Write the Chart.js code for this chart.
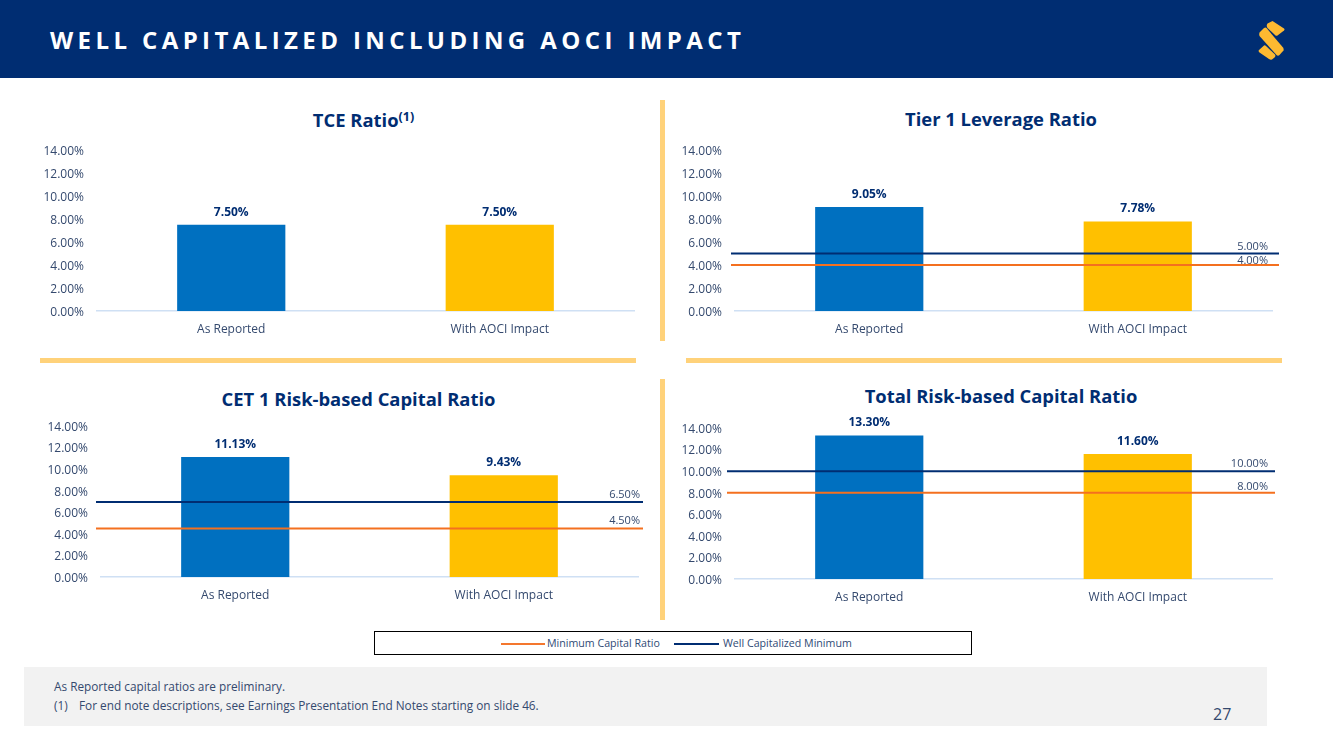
<!DOCTYPE html>
<html><head><meta charset="utf-8">
<script src="https://cdn.jsdelivr.net/npm/chart.js@4/dist/chart.umd.min.js"></script>
<style>
html,body{margin:0;padding:0;background:#fff;width:1333px;height:749px;overflow:hidden;font-family:"Open Sans",sans-serif}
.abs{position:absolute}
#hdr{left:0;top:0;width:1333px;height:78px;background:#002d72}
#hdrT{left:50px;top:24px;color:#fff;font-weight:700;font-size:24px;letter-spacing:4.4px;line-height:32px;white-space:nowrap}
.div{position:absolute;background:#ffd27a}
.ttl{position:absolute;color:#002d72;font-weight:700;font-size:18.4px;line-height:26px;text-align:center;white-space:nowrap}
.ttl sup{font-size:12.5px;line-height:0;vertical-align:baseline;position:relative;top:-6px}
canvas{position:absolute;display:block}
#leg{left:374px;top:631px;width:596px;height:22px;border:1px solid #000;font-size:10.65px;color:#2f4a75}
#leg span{position:absolute;top:4px;white-space:nowrap;line-height:15px}
#leg i{position:absolute;top:11px;height:2px;display:block}
#foot{left:24px;top:667px;width:1243px;height:59px;background:#f2f2f2}
.fn{position:absolute;font-size:11.8px;color:#34496e;white-space:nowrap;line-height:16px}
#pg{left:1213px;top:703px;font-size:16px;color:#34496e;line-height:22px}
</style></head><body>
<div id="hdr" class="abs"></div>
<div id="hdrT" class="abs">WELL CAPITALIZED INCLUDING AOCI IMPACT</div>
<svg class="abs" style="left:1250px;top:14px" width="44" height="52" viewBox="0 0 44 52">
<g fill="#fdb931">
<path d="M19 10.5L24 8L35.500 15.500Q36.500 16.500 35.500 17.500L29 22.500Q28 23 27 22.500L19 15Q17.500 12.500 19 10.500Z" transform="translate(-1.500 -1)"/>
<path d="M13 14L8.500 18.500Q8 20 8.500 22L25.500 41Q27 42.500 28.500 41L32.500 36.500Q33 35 32 33.500L15.500 14Q14.500 13 13 14Z" transform="translate(1 0)"/>
<path d="M8 36L13 31.500Q14 31 15 32L24 40.500Q25 42 23.500 43.500L21 45.500Q19.500 46 18 45L8.500 38.500Q7 37 8 36Z" transform="translate(1 0)"/>
</g></svg>

<div class="div" style="left:660px;top:100px;width:5px;height:241px"></div>
<div class="div" style="left:40px;top:358px;width:596px;height:5px"></div>
<div class="div" style="left:686px;top:358px;width:596px;height:5px"></div>
<div class="div" style="left:660px;top:379px;width:5px;height:241px"></div>

<div class="ttl" style="left:97px;top:107px;width:533px">TCE Ratio<sup>(1)</sup></div>
<div class="ttl" style="left:735px;top:106px;width:532px">Tier 1 Leverage Ratio</div>
<div class="ttl" style="left:101px;top:386px;width:515px">CET 1 Risk-based Capital Ratio</div>
<div class="ttl" style="left:735px;top:383px;width:532px">Total Risk-based Capital Ratio</div>

<canvas id="c1"></canvas><canvas id="c2"></canvas><canvas id="c3"></canvas><canvas id="c4"></canvas>

<div id="leg" class="abs">
<i style="left:126px;width:44px;background:#f4772e"></i><span style="left:172px">Minimum Capital Ratio</span>
<i style="left:299px;width:45px;background:#002d72"></i><span style="left:348px">Well Capitalized Minimum</span>
</div>
<div id="foot" class="abs"></div>
<div class="fn" style="left:54px;top:678px">As Reported capital ratios are preliminary.</div>
<div class="fn" style="left:54px;top:697px">(1)</div>
<div class="fn" style="left:79px;top:697px">For end note descriptions, see Earnings Presentation End Notes starting on slide 46.</div>
<div id="pg" class="abs">27</div>

<script>
const categories = ["As Reported", "With AOCI Impact"];
const barColors = ["#0070c0", "#ffc000"];
const tickValuesMax = 14;

const tceValues = [7.50, 7.50];
const tier1Values = [9.05, 7.78];
const cet1Values = [11.13, 9.43];
const totalValues = [13.30, 11.60];

// Threshold lines as they sit in the picture, with their printed labels
const tier1Well = 5.00, tier1Min = 4.00;
const cet1Well = 6.95, cet1Min = 4.50;   // the reference draws the line labelled 6.50% at about 6.95
const totalWell = 10.00, totalMin = 8.00;
const tier1Labels = ["5.00%", "4.00%"];
const cet1Labels = ["6.50%", "4.50%"];
const totalLabels = ["10.00%", "8.00%"];

const FONT = '"Open Sans", sans-serif';
const NAVY = "#002d72", ORANGE = "#f4701f", TICK = "#34496e";

const valueLabels = {
  id: "valueLabels",
  afterDatasetsDraw(chart, args, o) {
    const ctx = chart.ctx;
    ctx.save();
    const barMeta = chart.getDatasetMeta(0);
    ctx.font = "700 12px " + FONT;
    ctx.fillStyle = NAVY;
    ctx.textAlign = "center";
    ctx.textBaseline = "middle";
    barMeta.data.forEach((el, i) => {
      ctx.fillText(chart.data.datasets[0].data[i].toFixed(2) + "%", el.x, el.y - 12.5);
    });
    ctx.font = "11px " + FONT;
    ctx.fillStyle = TICK;
    ctx.textAlign = "right";
    chart.data.datasets.forEach((ds, di) => {
      if (!ds.endLabel) return;
      const y = chart.getDatasetMeta(di).data[0].y;
      ctx.fillText(ds.endLabel, chart.chartArea.right + o.labelDx, y - ds.labelGap);
    });
    ctx.restore();
  }
};

function nudgeTickLabels(scale, dy) {
  if (scale.$nudged) return;
  scale.$nudged = true;
  const orig = scale.getLabelItems;
  scale.getLabelItems = function (area) {
    const items = orig.call(this, area);
    if (!items.$done) {
      items.forEach(it => { it.textOffset += dy; });
      items.$done = true;
    }
    return items;
  };
}

function panel(id, values, well, min, labels, box) {
  const cv = document.getElementById(id);
  const L = box.canvasLeft, T = box.canvasTop, W = box.canvasW, H = box.canvasH;
  cv.style.left = L + "px"; cv.style.top = T + "px";
  cv.width = W; cv.height = H;
  const span = box.lineTo - box.lineFrom;
  const datasets = [{
    type: "bar", data: values, backgroundColor: barColors, grouped: false,
    barPercentage: box.barPct, categoryPercentage: 1, order: 3,
    xAxisID: "x", yAxisID: "y"
  }];
  if (well !== null) {
    const line = (v, color, name, lbl, gap, order) => ({
      type: "line", label: name, data: [{x: 0, y: v}, {x: 1, y: v}],
      borderColor: color, borderWidth: 2, pointRadius: 0, clip: false, fill: false,
      xAxisID: "x2", yAxisID: "y", order, endLabel: lbl, labelGap: gap
    });
    datasets.push(line(well, NAVY, "Well Capitalized Minimum", labels[0], box.wellGap, 1));
    datasets.push(line(min, ORANGE, "Minimum Capital Ratio", labels[1], box.minGap, 2));
  }
  new Chart(cv, {
    data: { labels: categories, datasets },
    plugins: [valueLabels],
    options: {
      responsive: false, animation: false, devicePixelRatio: 1,
      layout: { padding: { top: box.plotTop - T, right: L + W - box.plotRight, left: 0, bottom: 0 } },
      plugins: { legend: { display: false }, tooltip: { enabled: false }, title: { display: false },
                 valueLabels: { labelDx: box.labelDx } },
      scales: {
        x: { type: "category", offset: true, grid: { display: false, drawTicks: false },
             border: { display: true, color: "#cfe0f4", width: 1.5 },
             ticks: { color: TICK, font: { family: FONT, size: 12 }, padding: 11, maxRotation: 0 },
             afterFit(s) { s.height = T + H - box.plotBottom; s.paddingLeft = s.paddingRight = 0; } },
        x2: { type: "linear", display: false,
              min: (box.plotLeft - box.lineFrom) / span,
              max: (box.plotRight - box.lineFrom) / span },
        y: { type: "linear", min: 0, max: tickValuesMax,
             grid: { display: false, drawTicks: false }, border: { display: false },
             ticks: { stepSize: 2, color: TICK, font: { family: FONT, size: 12 }, padding: 13,
                      callback: v => v.toFixed(2) + "%" },
             afterFit(s) { s.width = box.plotLeft - L; s.paddingTop = s.paddingBottom = 0; nudgeTickLabels(s, 1.5); } }
      }
    }
  });
}

panel("c1", tceValues, null, null, null, {
  canvasLeft: 30, canvasTop: 138, canvasW: 625, canvasH: 206,
  plotLeft: 97, plotRight: 634, plotTop: 150, plotBottom: 311, barPct: 0.403,
  lineFrom: 97, lineTo: 634, labelDx: 0, wellGap: 0, minGap: 0
});
panel("c2", tier1Values, tier1Well, tier1Min, tier1Labels, {
  canvasLeft: 668, canvasTop: 138, canvasW: 625, canvasH: 206,
  plotLeft: 735, plotRight: 1272, plotTop: 150, plotBottom: 311, barPct: 0.403,
  lineFrom: 731, lineTo: 1279, labelDx: -4, wellGap: 6.5, minGap: 4
});
panel("c3", cet1Values, cet1Well, cet1Min, cet1Labels, {
  canvasLeft: 30, canvasTop: 414, canvasW: 625, canvasH: 198,
  plotLeft: 101, plotRight: 638, plotTop: 426, plotBottom: 577, barPct: 0.403,
  lineFrom: 96, lineTo: 643, labelDx: 2, wellGap: 7, minGap: 8
});
panel("c4", totalValues, totalWell, totalMin, totalLabels, {
  canvasLeft: 668, canvasTop: 412, canvasW: 625, canvasH: 202,
  plotLeft: 735, plotRight: 1272, plotTop: 428, plotBottom: 579, barPct: 0.403,
  lineFrom: 727, lineTo: 1275, labelDx: -4, wellGap: 7, minGap: 6
});
</script>
</body></html>
